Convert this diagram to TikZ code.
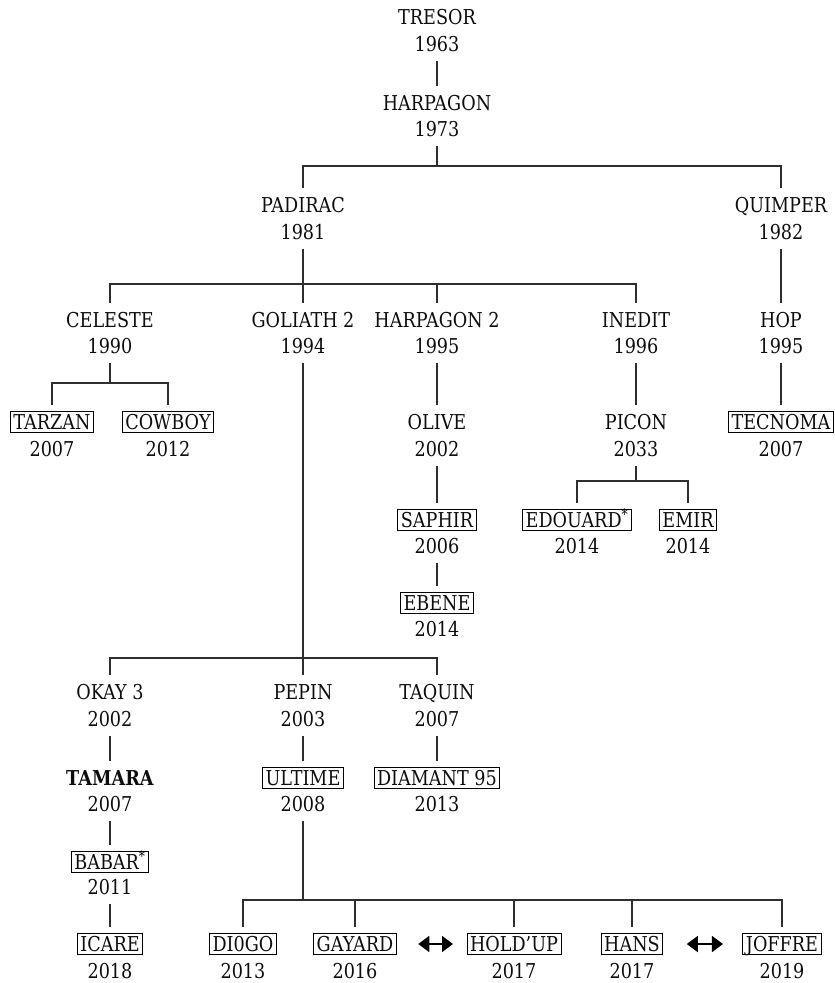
\documentclass[tikz,border=0pt]{standalone}
\usepackage{fontspec}
\setmainfont{DejaVu Serif}[FakeStretch=0.86]
\usetikzlibrary{arrows.meta}

\tikzset{
  nm/.style={inner sep=3pt, outer sep=7pt, text height=15pt, text depth=0pt,
    font=\fontsize{20.5}{24}\selectfont, text=black!95},
  boxed/.style={nm, draw=black, line width=0.9pt},
  yr/.style={inner sep=3pt, outer sep=6pt, text height=15pt, text depth=0pt,
    font=\fontsize{20.5}{24}\selectfont, text=black!95},
  link/.style={draw=black!82, line width=1.1pt},
  swaparr/.style={{Triangle[length=11pt,width=16pt]}-{Triangle[length=11pt,width=16pt]},
    line width=1.8pt, black}
}

\begin{document}
\begin{tikzpicture}[x=1pt, y=-1pt]
    \useasboundingbox (0,0) rectangle (835,983);
    % top of the line
    \node[nm] (tresor) at (437,17) {TRESOR};
    \node[yr] (tresorY) at (437,44) {1963};
    \node[nm] (harpagon) at (437,103) {HARPAGON};
    \node[yr] (harpagonY) at (437,129) {1973};
    \node[nm] (padirac) at (303,205) {PADIRAC};
    \node[yr] (padiracY) at (303,232) {1981};
    \node[nm] (quimper) at (781,205) {QUIMPER};
    \node[yr] (quimperY) at (781,232) {1982};
    % third row
    \node[nm] (celeste) at (110,320) {CELESTE};
    \node[yr] (celesteY) at (110,346) {1990};
    \node[nm] (goliath) at (303,320) {GOLIATH 2};
    \node[yr] (goliathY) at (303,346) {1994};
    \node[nm] (harpagon2) at (437,320) {HARPAGON 2};
    \node[yr] (harpagon2Y) at (437,346) {1995};
    \node[nm] (inedit) at (636,320) {INEDIT};
    \node[yr] (ineditY) at (636,346) {1996};
    \node[nm] (hop) at (781,320) {HOP};
    \node[yr] (hopY) at (781,346) {1995};
    % fourth row
    \node[boxed] (tarzan) at (52,422) {TARZAN};
    \node[yr] (tarzanY) at (52,449) {2007};
    \node[boxed] (cowboy) at (168,422) {COWBOY};
    \node[yr] (cowboyY) at (168,449) {2012};
    \node[nm] (olive) at (437,422) {OLIVE};
    \node[yr] (oliveY) at (437,449) {2002};
    \node[nm] (picon) at (636,422) {PICON};
    \node[yr] (piconY) at (636,449) {2033};
    \node[boxed] (tecnoma) at (781,422) {TECNOMA};
    \node[yr] (tecnomaY) at (781,449) {2007};
    % fifth and sixth rows
    \node[boxed] (saphir) at (437,520) {SAPHIR};
    \node[yr] (saphirY) at (437,546) {2006};
    \node[boxed] (edouard) at (577,520) {EDOUARD\textsuperscript{*}};
    \node[yr] (edouardY) at (577,546) {2014};
    \node[boxed] (emir) at (688,520) {EMIR};
    \node[yr] (emirY) at (688,546) {2014};
    \node[boxed] (ebene) at (437,603) {EBENE};
    \node[yr] (ebeneY) at (437,629) {2014};
    % under goliath 2
    \node[nm] (okay) at (110,692) {OKAY 3};
    \node[yr] (okayY) at (110,719) {2002};
    \node[nm] (pepin) at (303,692) {PEPIN};
    \node[yr] (pepinY) at (303,719) {2003};
    \node[nm] (taquin) at (437,692) {TAQUIN};
    \node[yr] (taquinY) at (437,719) {2007};
    \node[nm] (tamara) at (110,778) {\textbf{TAMARA}};
    \node[yr] (tamaraY) at (110,804) {2007};
    \node[boxed] (ultime) at (303,778) {ULTIME};
    \node[yr] (ultimeY) at (303,804) {2008};
    \node[boxed] (diamant) at (437,778) {DIAMANT 95};
    \node[yr] (diamantY) at (437,804) {2013};
    \node[boxed] (babar) at (110,862) {BABAR\textsuperscript{*}};
    \node[yr] (babarY) at (110,887) {2011};
    % bottom row
    \node[boxed] (icare) at (110,944) {ICARE};
    \node[yr] (icareY) at (110,971) {2018};
    \node[boxed] (diogo) at (243,944) {DI0GO};
    \node[yr] (diogoY) at (243,971) {2013};
    \node[boxed] (gayard) at (355,944) {GAYARD};
    \node[yr] (gayardY) at (355,971) {2016};
    \node[boxed] (holdup) at (514,944) {HOLD’UP};
    \node[yr] (holdupY) at (514,971) {2017};
    \node[boxed] (hans) at (632,944) {HANS};
    \node[yr] (hansY) at (632,971) {2017};
    \node[boxed] (joffre) at (782,944) {JOFFRE};
    \node[yr] (joffreY) at (782,971) {2019};

    % branch points
    \coordinate (barA) at (437,166);
    \coordinate (barB) at (303,284);
    \coordinate (barC) at (110,383);
    \coordinate (barD) at (636,481);
    \coordinate (barE) at (303,658);
    \coordinate (barF) at (303,900);

    \draw[link] (tresorY) -- (harpagon);
    \draw[link] (harpagonY) -- (barA);
    \draw[link] (padirac.north) |- (barA) -| (quimper.north);
    \draw[link] (padiracY) -- (goliath);
    \draw[link] (celeste.north) |- (barB) -| (inedit.north);
    \draw[link] (harpagon2.north) -- (harpagon2.north |- barB);
    \draw[link] (quimperY) -- (hop);
    \draw[link] (celesteY) -- (barC);
    \draw[link] (tarzan.north) |- (barC) -| (cowboy.north);
    \draw[link] (harpagon2Y) -- (olive);
    \draw[link] (ineditY) -- (picon);
    \draw[link] (hopY) -- (tecnoma);
    \draw[link] (oliveY) -- (saphir);
    \draw[link] (saphirY) -- (ebene);
    \draw[link] (piconY) -- (barD);
    \draw[link] (edouard.north) |- (barD) -| (emir.north);
    \draw[link] (goliathY) -- (pepin);
    \draw[link] (okay.north) |- (barE) -| (taquin.north);
    \draw[link] (okayY) -- (tamara);
    \draw[link] (tamaraY) -- (babar);
    \draw[link] (babarY) -- (icare);
    \draw[link] (pepinY) -- (ultime);
    \draw[link] (taquinY) -- (diamant);
    \draw[link] (ultimeY) -- (barF);
    \draw[link] (diogo.north) |- (barF) -| (joffre.north);
    \draw[link] (gayard.north) -- (gayard.north |- barF);
    \draw[link] (holdup.north) -- (holdup.north |- barF);
    \draw[link] (hans.north) -- (hans.north |- barF);

    % swaps
    \draw[swaparr] ([xshift=15pt]gayard.east) -- ([xshift=-7pt]holdup.west);
    \draw[swaparr] ([xshift=17pt]hans.east) -- ([xshift=-13pt]joffre.west);
\end{tikzpicture}
\end{document}
